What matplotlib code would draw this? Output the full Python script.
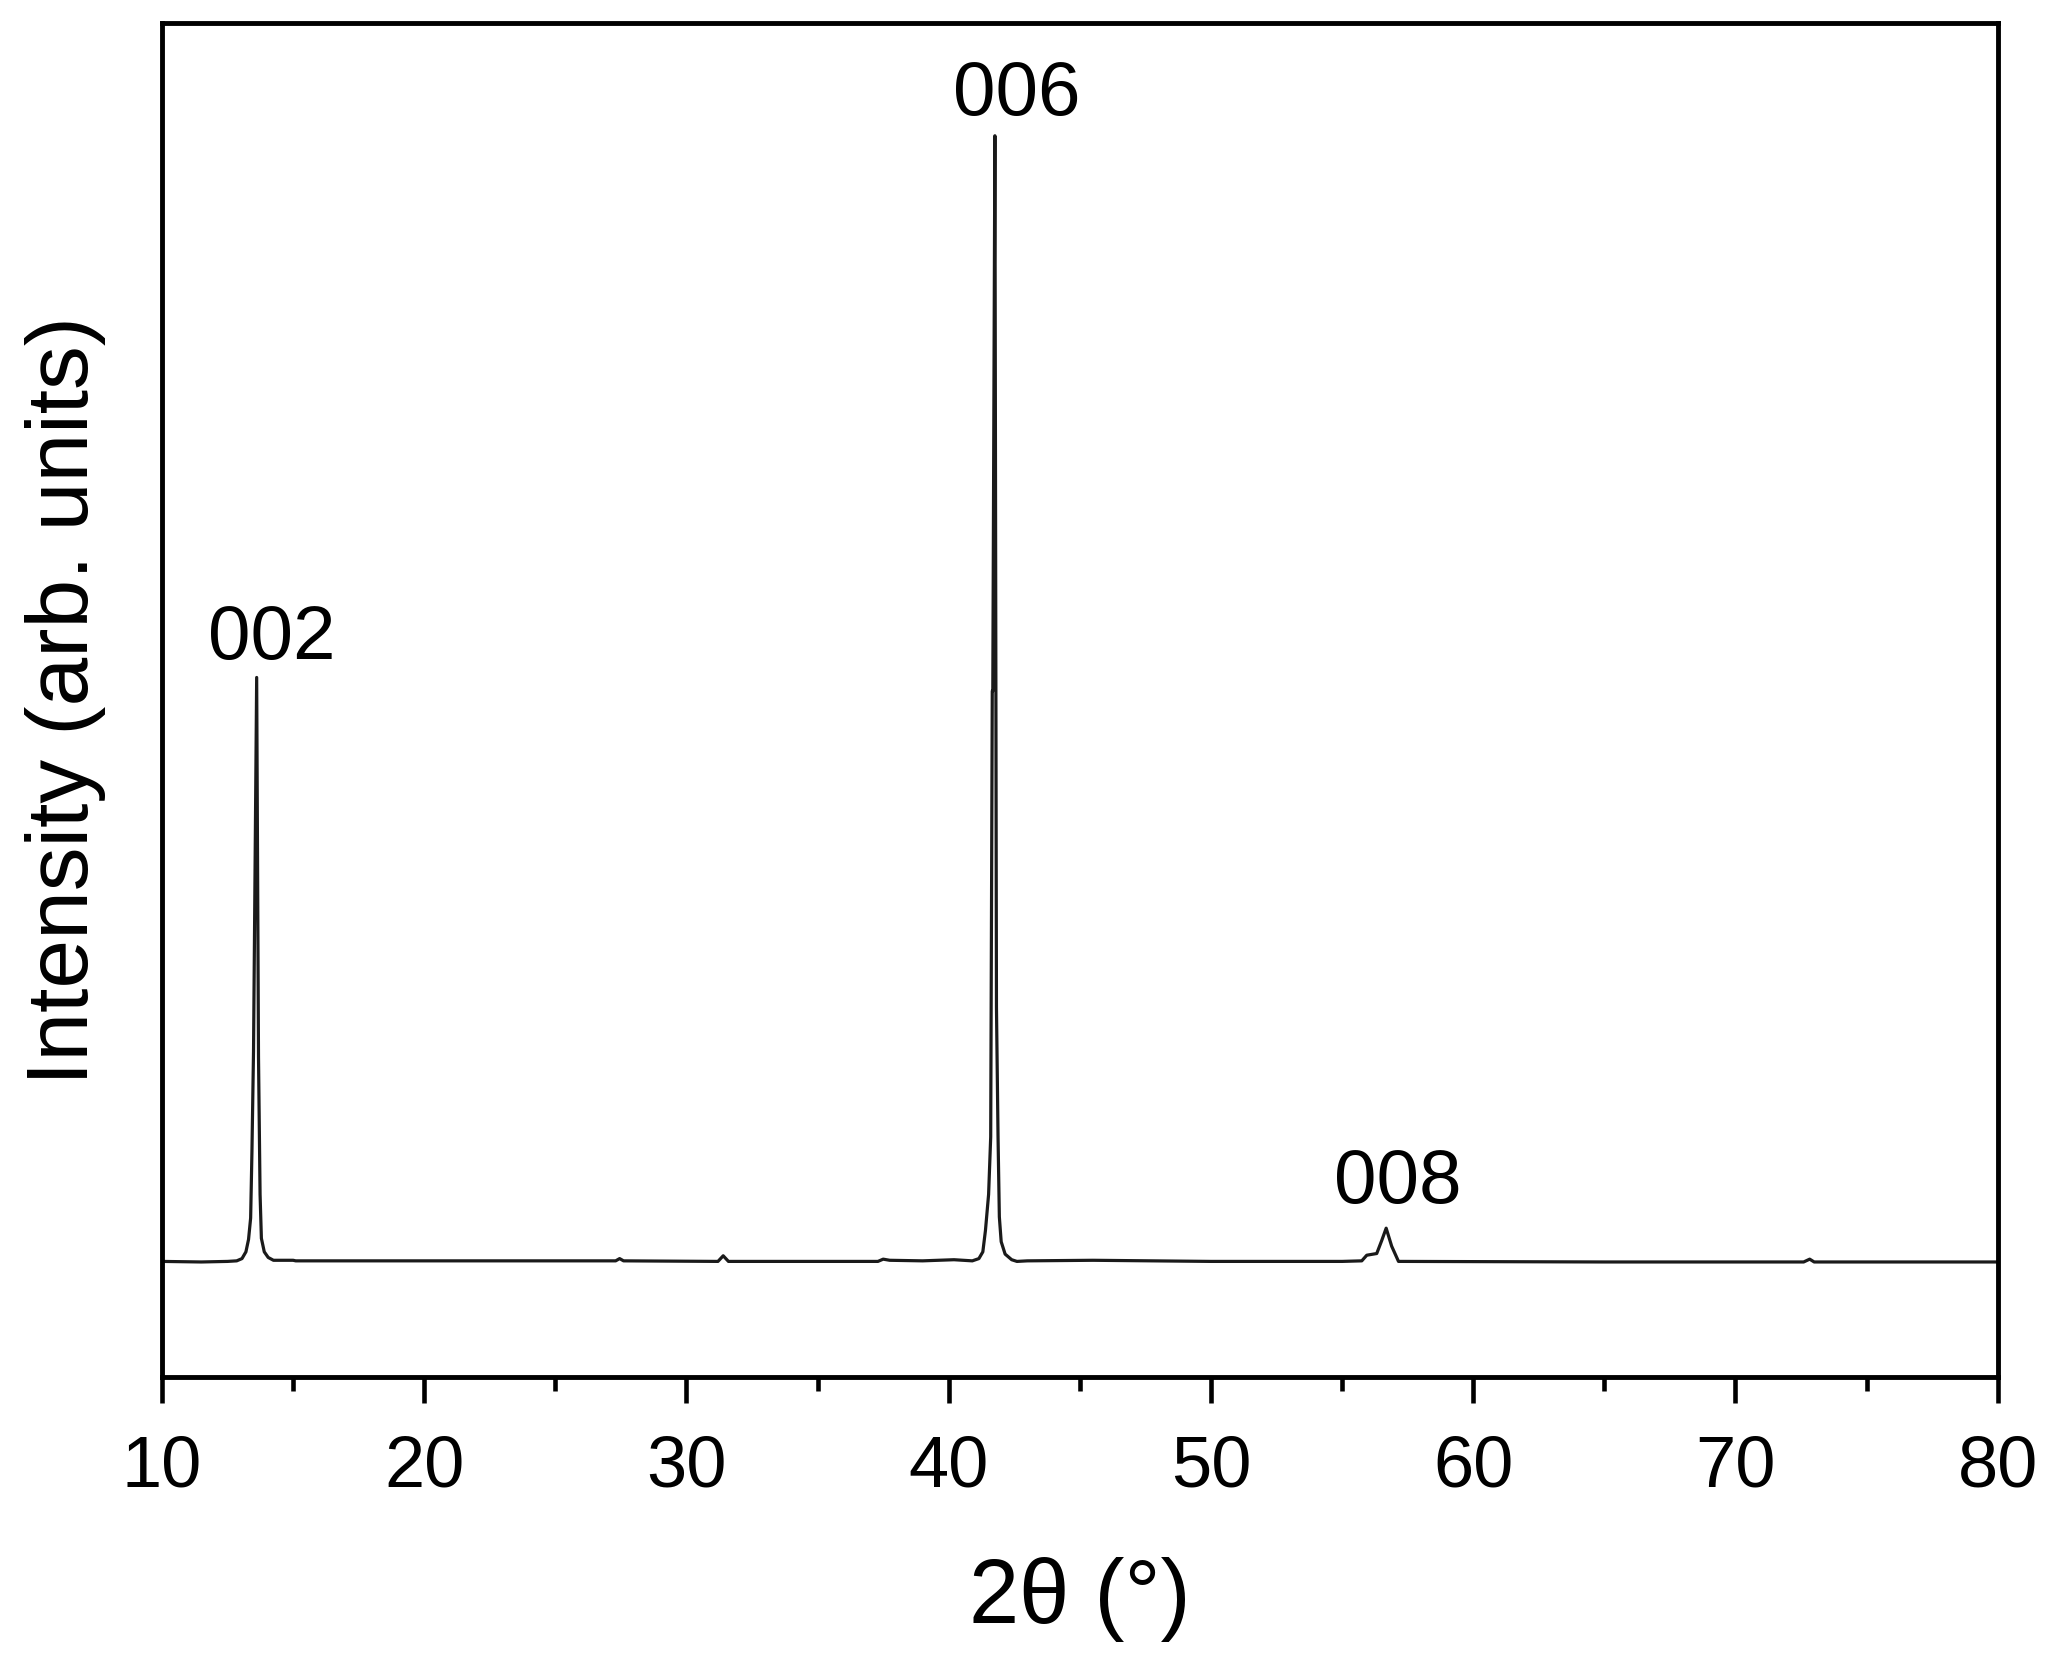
import matplotlib
matplotlib.use('Agg')
import matplotlib.pyplot as plt
from matplotlib.ticker import MultipleLocator

two_theta = [10.0, 11.5, 12.5, 12.85, 13.05, 13.20, 13.30, 13.38, 13.43, 13.49,
             13.61, 13.68, 13.74, 13.79, 13.90, 14.05, 14.25, 15.0, 15.1, 18.5,
             22.0, 27.3, 27.45, 27.6, 31.2, 31.4, 31.6, 37.3, 37.5, 37.75,
             39.0, 40.2, 40.9, 41.15, 41.30, 41.40, 41.52, 41.60, 41.66, 41.68,
             41.76, 41.82, 41.88, 41.93, 42.00, 42.15, 42.40, 42.60, 43.0, 45.5,
             50.0, 55.0, 55.75, 55.94, 56.32, 56.51, 56.68, 56.89, 57.15, 57.3,
             65.0, 72.6, 72.83, 73.0, 80.0]
intensity = [0.05, 0.0, 0.05, 0.1, 0.3, 0.9, 2.0, 3.9, 9.8, 18.7,
             51.9, 18.2, 6.0, 2.1, 0.9, 0.4, 0.15, 0.15, 0.1, 0.1,
             0.1, 0.1, 0.3, 0.1, 0.05, 0.55, 0.05, 0.05, 0.25, 0.15,
             0.1, 0.2, 0.1, 0.3, 0.9, 2.8, 6.0, 11.1, 50.7, 50.7,
             100.0, 22.6, 11.1, 4.0, 1.8, 0.7, 0.2, 0.05, 0.1, 0.15,
             0.05, 0.05, 0.1, 0.6, 0.75, 1.9, 3.0, 1.4, 0.05, 0.05,
             0.0, 0.0, 0.25, 0.0, 0.0]

# rótulos dos picos
picos = ['002', '006', '008']
picos_x = [14.2, 42.6, 57.13]
picos_y = [53.6, 101.9, 5.3]

fonte = 'Liberation Sans'

fig = plt.figure(figsize=(20.61, 16.65), dpi=100)
ax = fig.add_axes([0.0786, 0.1726, 0.8907, 0.8131])

ax.plot(two_theta, intensity, color='#1a1a1a', linewidth=2.3)

for rot, xp, yp in zip(picos, picos_x, picos_y):
    ax.text(xp, yp, rot, ha='center', va='baseline', fontsize=55, family=fonte)

ax.set_xlim(10, 80)
ax.set_ylim(-10.18, 110.03)

ax.xaxis.set_major_locator(MultipleLocator(10))
ax.xaxis.set_minor_locator(MultipleLocator(5))
ax.set_yticks([])

ax.tick_params(axis='x', which='major', direction='out', length=18.7, width=3.3,
               pad=22, labelsize=52)
ax.tick_params(axis='x', which='minor', direction='out', length=10, width=3.3)
for lab in ax.get_xticklabels():
    lab.set_family(fonte)

for sp in ax.spines.values():
    sp.set_linewidth(3.5)

ax.set_xlabel('2θ (°)', fontsize=65, family=fonte, labelpad=40)
ax.set_ylabel('Intensity (arb. units)', fontsize=63, family=fonte, labelpad=40)

fig.savefig('out.png', dpi=100)
